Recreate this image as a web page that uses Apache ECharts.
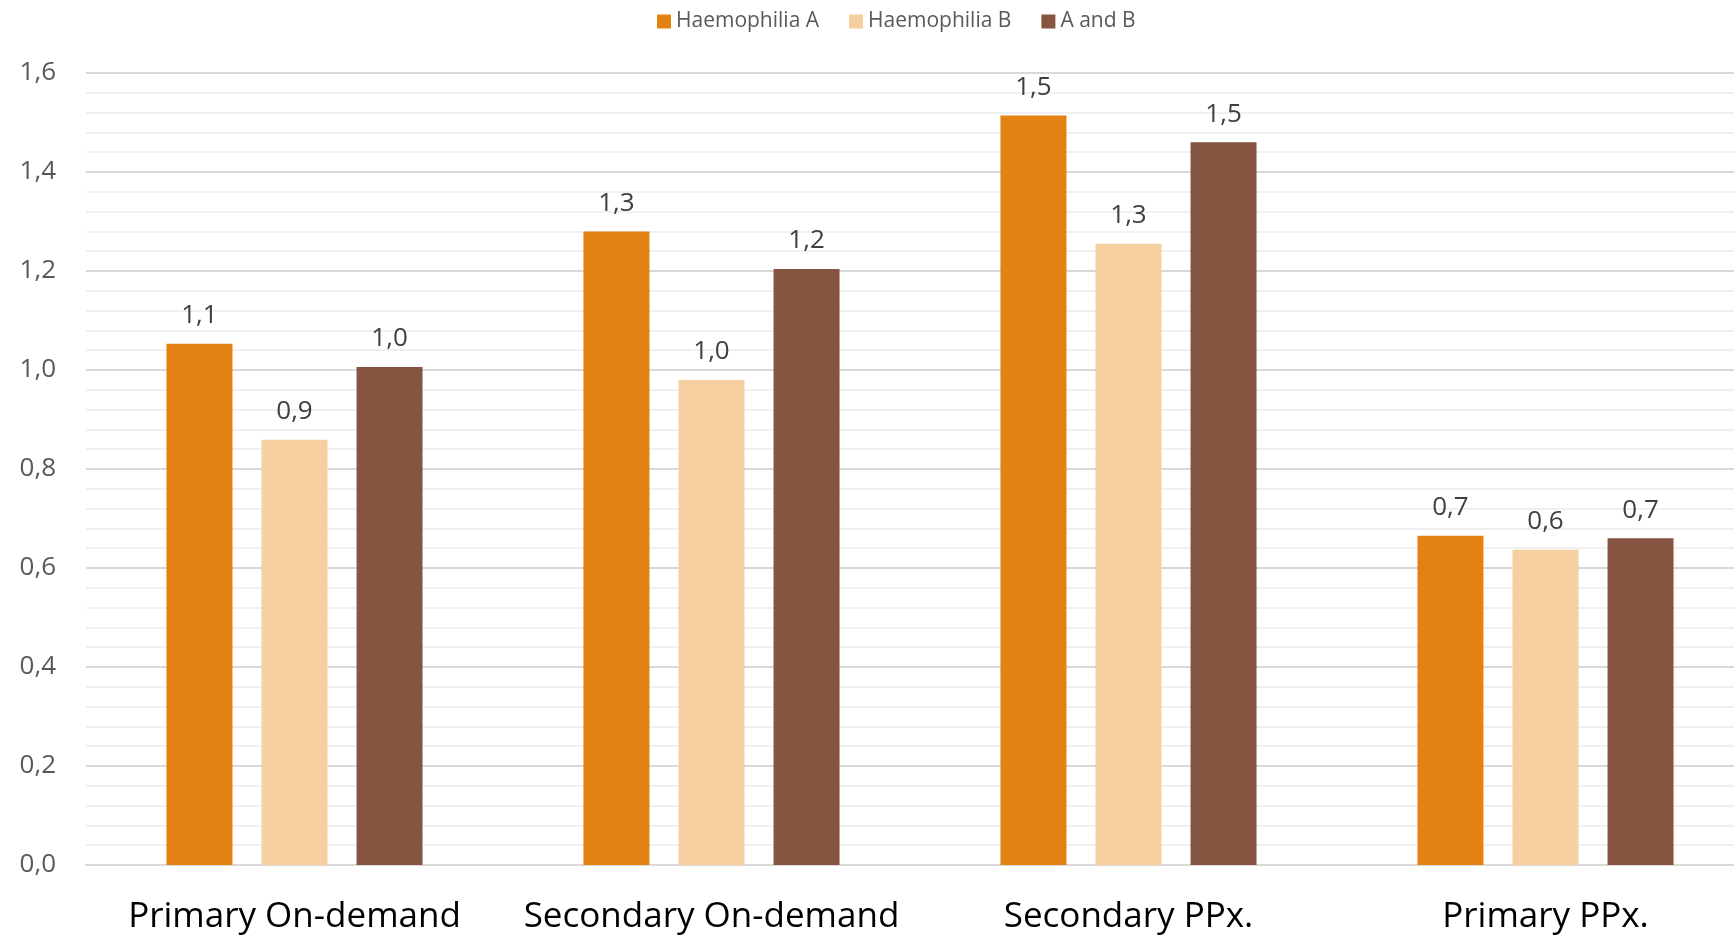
<!DOCTYPE html>
<html>
<head>
<meta charset="utf-8">
<script src="https://cdn.jsdelivr.net/npm/echarts@6/dist/echarts.min.js"></script>
<style>
html,body{margin:0;padding:0;background:#fff;overflow:hidden;}
#chart{width:1734px;height:937px;}
</style>
</head>
<body>
<div id="chart"></div>
<script>
const categories = ['Primary On-demand', 'Secondary On-demand', 'Secondary PPx.', 'Primary PPx.'];
const seriesNames = ['Haemophilia A', 'Haemophilia B', 'A and B'];
const haemophiliaA = [1.053, 1.280, 1.514, 0.665];
const haemophiliaB = [0.859, 0.980, 1.255, 0.637];
const aAndB = [1.006, 1.204, 1.460, 0.660];
const yTicks = [0, 0.2, 0.4, 0.6, 0.8, 1.0, 1.2, 1.4, 1.6];

const colors = ['#E38213', '#F5CFA0', '#865541'];
const FONT = 'Open Sans';

const chart = echarts.init(document.getElementById('chart'));
const fmt = v => v.toFixed(1).replace('.', ',');

const makeSeries = (name, data, color) => ({
  name: name,
  type: 'bar',
  data: data,
  barWidth: 66,
  barGap: '44%',
  itemStyle: { color: color },
  label: {
    show: true,
    position: 'top',
    distance: 15,
    formatter: p => fmt(p.value),
    color: '#404040',
    fontFamily: FONT,
    fontSize: 26
  }
});

chart.setOption({
  animation: false,
  backgroundColor: '#ffffff',
  color: colors,
  legend: {
    data: seriesNames,
    left: 652,
    top: 6,
    itemWidth: 14,
    itemHeight: 14,
    itemGap: 30,
    icon: 'rect',
    textStyle: { color: '#595959', fontFamily: FONT, fontSize: 21 }
  },
  grid: {
    left: 86,
    width: 1668,
    top: 73,
    bottom: 72,
    containLabel: false,
    outerBoundsMode: 'none'
  },
  xAxis: {
    type: 'category',
    data: categories,
    axisLine: { lineStyle: { color: '#d9d9d9', width: 2 } },
    axisTick: { show: false },
    axisLabel: {
      interval: 0,
      color: '#000000',
      fontFamily: FONT,
      fontSize: 35,
      margin: 35
    }
  },
  yAxis: {
    type: 'value',
    min: yTicks[0],
    max: yTicks[yTicks.length - 1],
    interval: 0.2,
    axisLine: { show: false },
    axisTick: { show: false },
    axisLabel: {
      color: '#595959',
      fontFamily: FONT,
      fontSize: 26,
      margin: 30,
      formatter: v => fmt(v)
    },
    splitLine: { lineStyle: { color: '#d9d9d9', width: 2 } },
    minorTick: { show: false, splitNumber: 5 },
    minorSplitLine: { show: true, lineStyle: { color: '#f0f0f0', width: 2 } }
  },
  series: [
    makeSeries(seriesNames[0], haemophiliaA, colors[0]),
    makeSeries(seriesNames[1], haemophiliaB, colors[1]),
    makeSeries(seriesNames[2], aAndB, colors[2])
  ]
});
</script>
</body>
</html>
